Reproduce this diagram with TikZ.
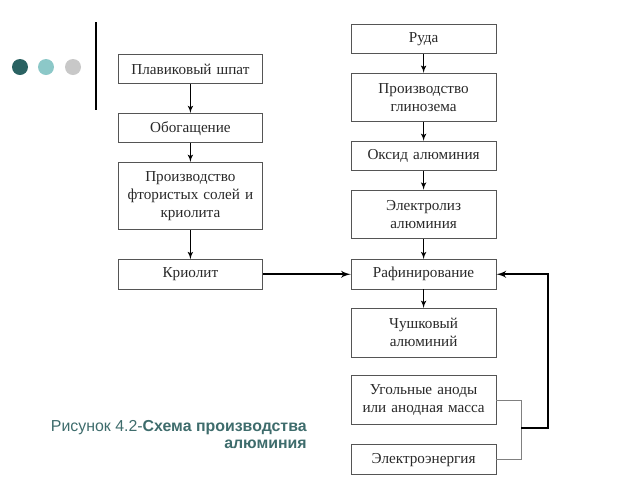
\documentclass[tikz,border=0pt]{standalone}
\usepackage{fontspec}
\setmainfont{Liberation Serif}
\newfontfamily\capfont{Liberation Sans}
\usetikzlibrary{shapes,arrows,positioning}
\definecolor{boxline}{RGB}{85,85,85}
\definecolor{boxtext}{RGB}{40,40,40}
\definecolor{capcol}{RGB}{62,108,108}
\definecolor{dotdark}{RGB}{42,98,98}
\definecolor{dotlight}{RGB}{140,200,200}
\definecolor{dotgrey}{RGB}{200,200,200}
\tikzstyle{process} = [rectangle, draw=boxline, line width=0.6pt, text=boxtext, text width=3.48cm, align=center, inner sep=2pt, minimum height=0.735cm, font=\fontsize{10.8}{13}\selectfont]
\tikzstyle{line} = [draw, line width=0.8pt, -latex']
\tikzstyle{thick line} = [draw, line width=1.4pt, -latex']
\tikzstyle{feed} = [draw=gray, line width=0.6pt]

\begin{document}
\begin{tikzpicture}[node distance=0.465cm]
    \useasboundingbox (0,0) rectangle (16,-12);
    % decoration
    \fill [dotdark] (0.5,-1.675) circle (0.2);
    \fill [dotlight] (1.15,-1.675) circle (0.2);
    \fill [dotgrey] (1.825,-1.675) circle (0.2);
    \draw [line width=2pt] (2.4,-0.55) -- (2.4,-2.75);

    % left column
    \node [process, anchor=north] (shpat) at (4.76,-1.35) {Плавиковый шпат};
    \node [process, below=0.72cm of shpat] (obog) {Обогащение};
    \node [process, below=of obog, minimum height=1.69cm] (ftor) {Производство\\ фтористых солей и\\ криолита};
    \node [process, below=0.72cm of ftor] (kriolit) {Криолит};

    % right column
    \node [process, anchor=north] (ruda) at (10.59,-0.6) {Руда};
    \node [process, below=of ruda, minimum height=1.215cm] (glinozem) {Производство\\ глинозема};
    \node [process, below=of glinozem] (oksid) {Оксид алюминия};
    \node [process, below=of oksid, minimum height=1.215cm] (elektroliz) {Электролиз\\ алюминия};
    \node [process] (rafin) at (kriolit -| ruda) {Рафинирование};
    \node [process, below=of rafin, minimum height=1.215cm] (chushka) {Чушковый\\ алюминий};
    \node [process, below=0.45cm of chushka, minimum height=1.215cm] (anody) {Угольные аноды\\ или анодная масса};
    \node [process, below=0.49cm of anody] (energy) {Электроэнергия};

    \coordinate (merge) at (13.025,-10.7);
    \coordinate (turn) at (13.7,-10.7);

    % caption
    \node [anchor=north east, align=right, inner sep=0pt, text=capcol, font=\capfont\fontsize{11.3}{12.2}\selectfont] (caption) at (7.675,-10.51) {Рисунок 4.2-\textbf{Схема производства}\\ \textbf{алюминия}};

    \path [line] (shpat) -- (obog);
    \path [line] (obog) -- (ftor);
    \path [line] (ftor) -- (kriolit);
    \path [line] (ruda) -- (glinozem);
    \path [line] (glinozem) -- (oksid);
    \path [line] (oksid) -- (elektroliz);
    \path [line] (elektroliz) -- (rafin);
    \path [line] (rafin) -- (chushka);
    \path [thick line] (kriolit) -- (rafin);
    \path [feed] (anody.east) -| (merge);
    \path [feed] (energy.east) -| (merge);
    \path [thick line] (merge) -- (turn) |- (rafin.east);
\end{tikzpicture}
\end{document}
